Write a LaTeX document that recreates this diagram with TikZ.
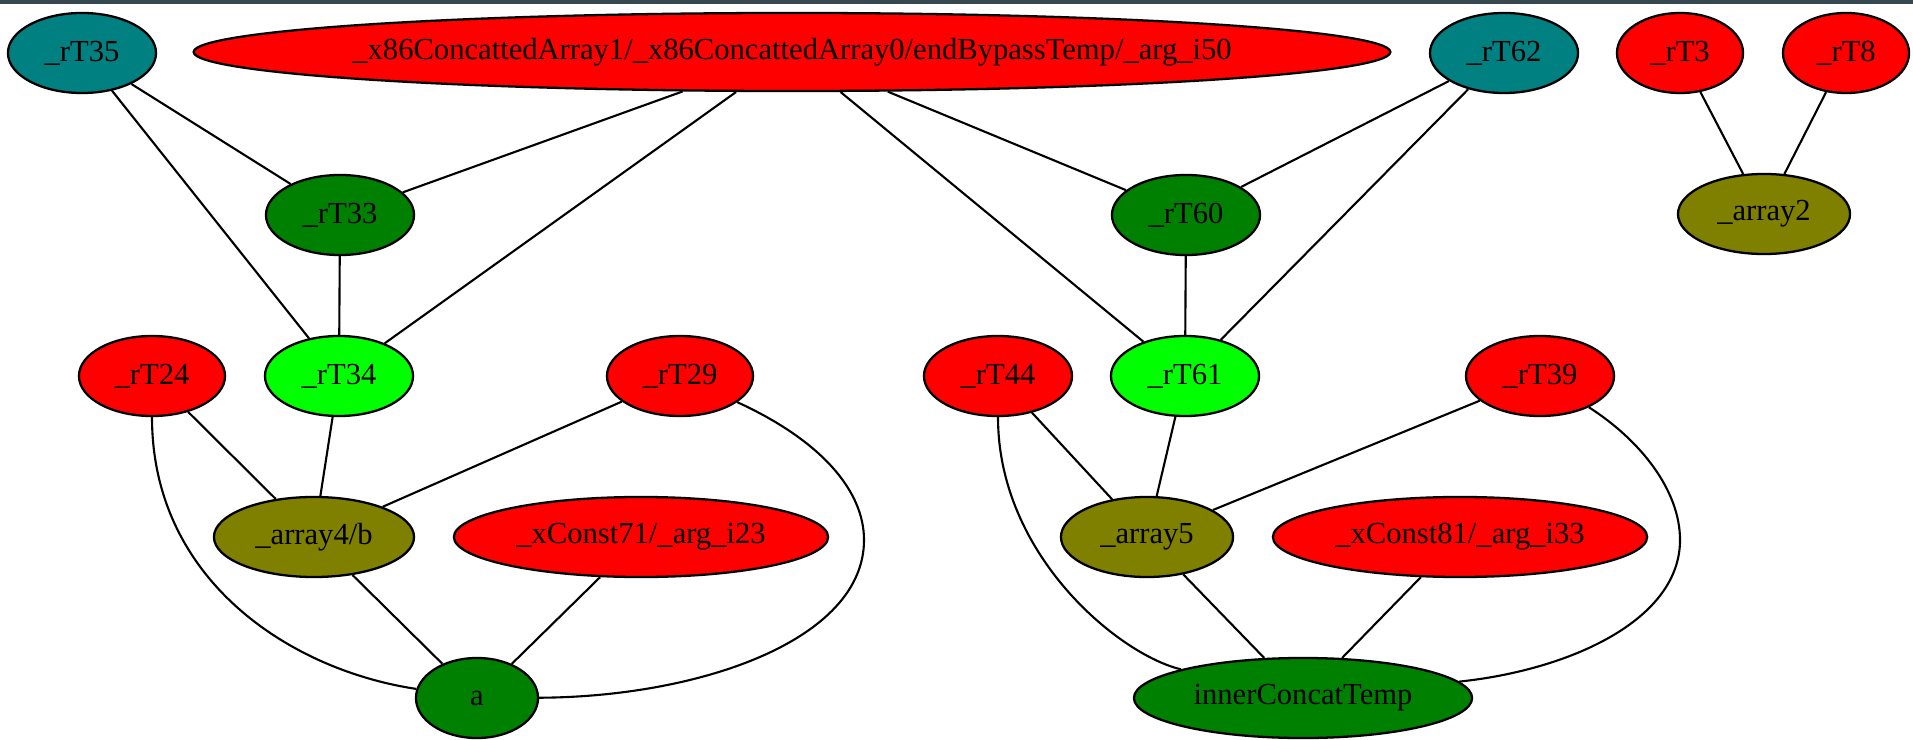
\documentclass[tikz,border=0pt]{standalone}
\usepackage{fontspec}
\setmainfont{Liberation Serif}
\usetikzlibrary{shapes.geometric}

\definecolor{gvred}{HTML}{FF0000}
\definecolor{gvteal}{HTML}{008080}
\definecolor{gvgreen}{HTML}{008000}
\definecolor{gvlime}{HTML}{00FF00}
\definecolor{gvolive}{HTML}{808000}
\definecolor{barcol}{HTML}{37474F}

% zero-width label so the ellipse keeps its given size
\newcommand{\nodetext}[1]{\makebox[0pt]{#1}}

\tikzset{
  gv/.style={ellipse, draw=black, line width=0.65pt, inner sep=0pt,
             minimum height=0.8cm, text=black,
             font=\fontsize{8.7}{10}\selectfont},
  red/.style={gv, fill=gvred},
  teal/.style={gv, fill=gvteal},
  dkgreen/.style={gv, fill=gvgreen},
  lime/.style={gv, fill=gvlime},
  olive/.style={gv, fill=gvolive},
  edge/.style={draw=black, line width=0.6pt}
}

\begin{document}
\begin{tikzpicture}[x=0.01cm, y=-0.01cm]
  % canvas and top bar
  \fill[white] (0,0) rectangle (1913,740);
  \fill[barcol] (0,0) rectangle (1913,4);

  % top row
  \node[teal, minimum width=1.48cm] (rT35) at (82,53) {\nodetext{\_rT35}};
  \node[red, minimum width=11.96cm, minimum height=0.78cm] (big) at (792,52)
    {\nodetext{\_x86ConcattedArray1/\_x86ConcattedArray0/endBypassTemp/\_arg\_i50}};
  \node[teal, minimum width=1.48cm] (rT62) at (1504,53) {\nodetext{\_rT62}};
  \node[red, minimum width=1.26cm] (rT3) at (1680,53) {\nodetext{\_rT3}};
  \node[red, minimum width=1.26cm] (rT8) at (1846,53) {\nodetext{\_rT8}};

  % second row
  \node[dkgreen, minimum width=1.48cm] (rT33) at (340,215) {\nodetext{\_rT33}};
  \node[dkgreen, minimum width=1.48cm] (rT60) at (1186,215) {\nodetext{\_rT60}};
  \node[olive, minimum width=1.72cm] (array2) at (1764,214) {\nodetext{\_array2}};

  % third row
  \node[red, minimum width=1.46cm] (rT24) at (152,376) {\nodetext{\_rT24}};
  \node[lime, minimum width=1.48cm] (rT34) at (339,376) {\nodetext{\_rT34}};
  \node[red, minimum width=1.46cm] (rT29) at (680,376) {\nodetext{\_rT29}};
  \node[red, minimum width=1.48cm] (rT44) at (998,376) {\nodetext{\_rT44}};
  \node[lime, minimum width=1.48cm] (rT61) at (1185,376) {\nodetext{\_rT61}};
  \node[red, minimum width=1.48cm] (rT39) at (1540,376) {\nodetext{\_rT39}};

  % fourth row
  \node[olive, minimum width=2.00cm] (array4b) at (314,537) {\nodetext{\_array4/b}};
  \node[red, minimum width=3.74cm] (xc71) at (641,537) {\nodetext{\_xConst71/\_arg\_i23}};
  \node[olive, minimum width=1.72cm] (array5) at (1147,537) {\nodetext{\_array5}};
  \node[red, minimum width=3.74cm] (xc81) at (1460,537) {\nodetext{\_xConst81/\_arg\_i33}};

  % bottom row
  \node[dkgreen, minimum width=1.22cm] (a) at (477,698) {\nodetext{a}};
  \node[dkgreen, minimum width=3.38cm] (inner) at (1303,698) {\nodetext{innerConcatTemp}};

  % straight connectors
  \draw[edge] (rT35) -- (rT33);
  \draw[edge] (rT35) -- (rT34);
  \draw[edge] (big) -- (rT33);
  \draw[edge] (big) -- (rT34);
  \draw[edge] (big) -- (rT60);
  \draw[edge] (big) -- (rT61);
  \draw[edge] (rT62) -- (rT60);
  \draw[edge] (rT62) -- (rT61);
  \draw[edge] (rT3) -- (array2);
  \draw[edge] (rT8) -- (array2);
  \draw[edge] (rT33) -- (rT34);
  \draw[edge] (rT60) -- (rT61);
  \draw[edge] (rT24) -- (array4b);
  \draw[edge] (rT34) -- (array4b);
  \draw[edge] (rT29) -- (array4b);
  \draw[edge] (array4b) -- (a);
  \draw[edge] (xc71) -- (a);
  \draw[edge] (rT44) -- (array5);
  \draw[edge] (rT61) -- (array5);
  \draw[edge] (rT39) -- (array5);
  \draw[edge] (array5) -- (inner);
  \draw[edge] (xc81) -- (inner);

  % curved connectors
  \draw[edge] (rT24) .. controls (152,580) and (290,670) .. (a);
  \draw[edge] (rT29) .. controls (820,440) and (864,490) .. (864,540)
                     .. controls (864,640) and (700,697) .. (a);
  \draw[edge] (rT44) .. controls (998,556) and (1120,655) .. (inner);
  \draw[edge] (rT39) .. controls (1640,440) and (1680,490) .. (1680,540)
                     .. controls (1680,620) and (1570,670) .. (inner);
\end{tikzpicture}
\end{document}
